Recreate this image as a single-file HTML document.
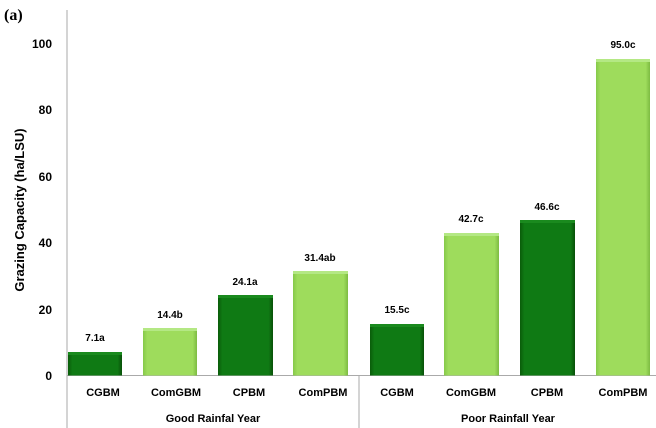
<!DOCTYPE html>
<html><head><style>body{margin:0;background:#fff}svg{display:block}text{font-family:"Liberation Sans",sans-serif;font-weight:bold}</style></head><body>
<svg width="656" height="428" viewBox="0 0 656 428" xmlns="http://www.w3.org/2000/svg">
<defs>
<linearGradient id="dk" x1="0" y1="0" x2="1" y2="0"><stop offset="0" stop-color="#0a5c0a"/><stop offset="0.08" stop-color="#0f7a14"/><stop offset="0.92" stop-color="#0f7a14"/><stop offset="1" stop-color="#085008"/></linearGradient>
<linearGradient id="lt" x1="0" y1="0" x2="1" y2="0"><stop offset="0" stop-color="#86c94a"/><stop offset="0.08" stop-color="#9edc5c"/><stop offset="0.92" stop-color="#9edc5c"/><stop offset="1" stop-color="#7dbb42"/></linearGradient>
</defs>
<text x="4" y="20" font-size="16" style="font-family:'Liberation Serif',serif">(a)</text>
<g font-size="12" text-anchor="end" fill="#000">
<text x="52" y="380">0</text><text x="52" y="314">20</text><text x="52" y="247">40</text><text x="52" y="181">60</text><text x="52" y="114">80</text><text x="52" y="48">100</text>
</g>
<text transform="translate(24,210) rotate(-90)" font-size="13" text-anchor="middle">Grazing Capacity (ha/LSU)</text>
<line x1="67" y1="10" x2="67" y2="428" stroke="#aaa"/>
<line x1="67" y1="375.5" x2="656" y2="375.5" stroke="#aaa"/>
<line x1="359" y1="376" x2="359" y2="428" stroke="#aaa"/>
<g>
<rect x="68" y="352" width="54" height="23.5" fill="url(#dk)"/><rect x="68" y="352" width="54" height="3" fill="#1a8a1e"/>
<rect x="143" y="328" width="54" height="47.5" fill="url(#lt)"/><rect x="143" y="328" width="54" height="3" fill="#b4e884"/>
<rect x="218" y="295" width="55" height="80.5" fill="url(#dk)"/><rect x="218" y="295" width="55" height="3" fill="#1a8a1e"/>
<rect x="293" y="271" width="55" height="104.5" fill="url(#lt)"/><rect x="293" y="271" width="55" height="3" fill="#b4e884"/>
<rect x="370" y="324" width="54" height="51.5" fill="url(#dk)"/><rect x="370" y="324" width="54" height="3" fill="#1a8a1e"/>
<rect x="444" y="233" width="55" height="142.5" fill="url(#lt)"/><rect x="444" y="233" width="55" height="3" fill="#b4e884"/>
<rect x="520" y="220" width="55" height="155.5" fill="url(#dk)"/><rect x="520" y="220" width="55" height="3" fill="#1a8a1e"/>
<rect x="596" y="59" width="54" height="316.5" fill="url(#lt)"/><rect x="596" y="59" width="54" height="3" fill="#b4e884"/>
</g>
<g font-size="10" text-anchor="middle">
<text x="95" y="341">7.1a</text><text x="170" y="318">14.4b</text><text x="245" y="285">24.1a</text><text x="320" y="261">31.4ab</text>
<text x="397" y="313">15.5c</text><text x="471" y="222">42.7c</text><text x="547" y="210">46.6c</text><text x="623" y="48">95.0c</text>
</g>
<g font-size="11" text-anchor="middle">
<text x="103" y="396">CGBM</text><text x="176" y="396">ComGBM</text><text x="249" y="396">CPBM</text><text x="323" y="396">ComPBM</text>
<text x="397" y="396">CGBM</text><text x="471" y="396">ComGBM</text><text x="547" y="396">CPBM</text><text x="623" y="396">ComPBM</text>
<text x="213" y="422">Good Rainfal Year</text><text x="508" y="422">Poor Rainfall Year</text>
</g>
</svg>
</body></html>
